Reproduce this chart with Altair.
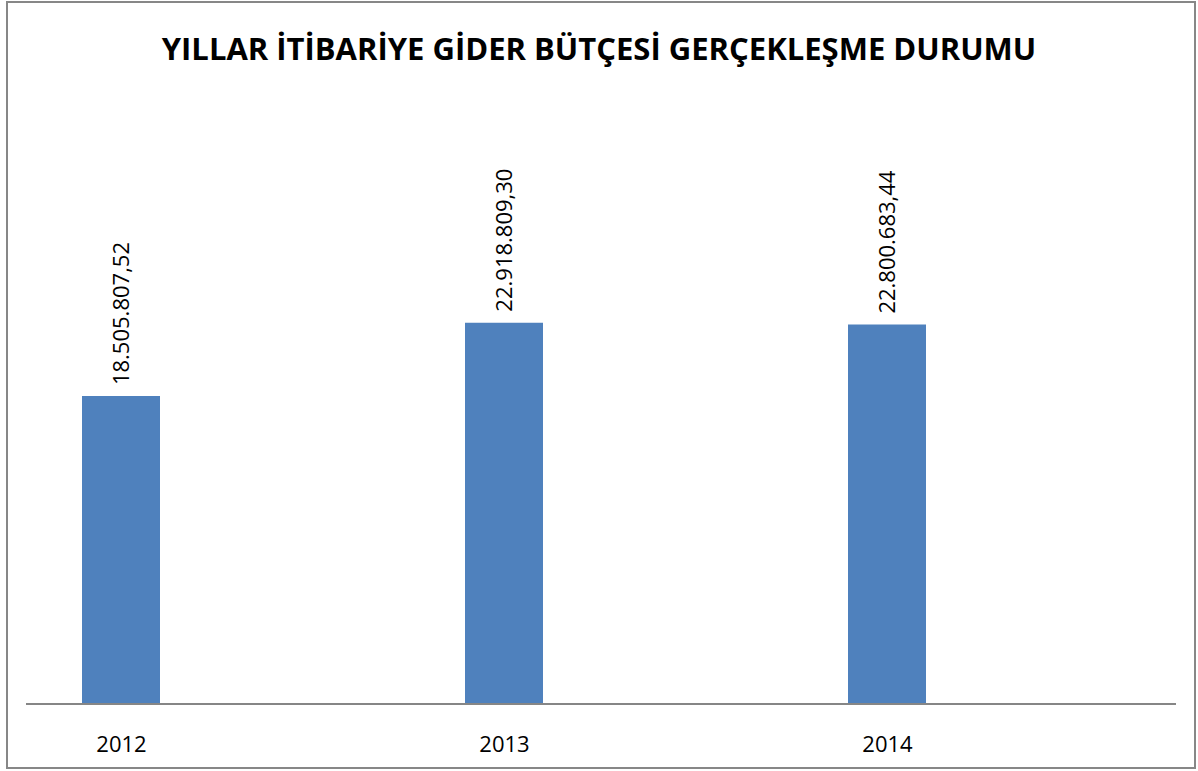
import altair as alt
import pandas as pd

years = ["2012", "2013", "2014"]
values = [18505807.52, 22918809.30, 22800683.44]
value_labels = ["18.505.807,52", "22.918.809,30", "22.800.683,44"]
title_text = "YILLAR İTİBARİYE GİDER BÜTÇESİ GERÇEKLEŞME DURUMU"

df = pd.DataFrame({"year": years, "value": values, "label": value_labels})

FONT = "Open Sans"
Y_SCALE = alt.Scale(domain=[0, 25000000], nice=False, zero=True)

x_enc = alt.X(
    "year:O",
    scale=alt.Scale(type="point", range=[95, 861], padding=0),
    axis=alt.Axis(
        title=None,
        labelAngle=0,
        ticks=False,
        tickSize=0,
        domain=False,
        labelPadding=47,
        labelBaseline="alphabetic",
        labelFont=FONT,
        labelFontSize=22,
        labelColor="#000000",
        grid=False,
    ),
)
y_enc = alt.Y("value:Q", scale=Y_SCALE, axis=None)

bars = alt.Chart(df).mark_bar(color="#4F81BD", size=78).encode(x=x_enc, y=y_enc)

labels = alt.Chart(df).mark_text(
    angle=270,
    align="left",
    baseline="middle",
    dx=11,
    dy=1,
    font=FONT,
    fontSize=22,
    color="#000000",
).encode(x=x_enc, y=y_enc, text="label:N")

baseline_rule = (
    alt.Chart(pd.DataFrame({"z": [0]}))
    .mark_rule(color="#868686", strokeWidth=2)
    .encode(
        x=alt.value(0),
        x2=alt.value(1150),
        y=alt.Y("z:Q", scale=Y_SCALE, axis=None),
    )
)

frame = alt.Chart(df).mark_rect(
    fill=None, fillOpacity=0, stroke="#878787", strokeWidth=2
).encode(
    x=alt.value(-19), x2=alt.value(1169), y=alt.value(-286), y2=alt.value(480)
)

title = alt.Chart(pd.DataFrame({"t": [title_text]})).mark_text(
    font=FONT,
    fontSize=31,
    fontWeight="bold",
    color="#000000",
    align="center",
    baseline="alphabetic",
).encode(x=alt.value(573), y=alt.value(-228), text="t:N")

chart = (
    alt.layer(frame, bars, baseline_rule, labels, title)
    .properties(
        width=1150,
        height=416,
        background="#ffffff",
        autosize=alt.AutoSizeParams(type="none"),
        padding={"left": 26, "top": 288, "right": 22, "bottom": 67},
    )
    .configure_view(strokeWidth=0, stroke="transparent")
)

chart.save("out.html", embed_options={"renderer": "svg", "actions": False})
